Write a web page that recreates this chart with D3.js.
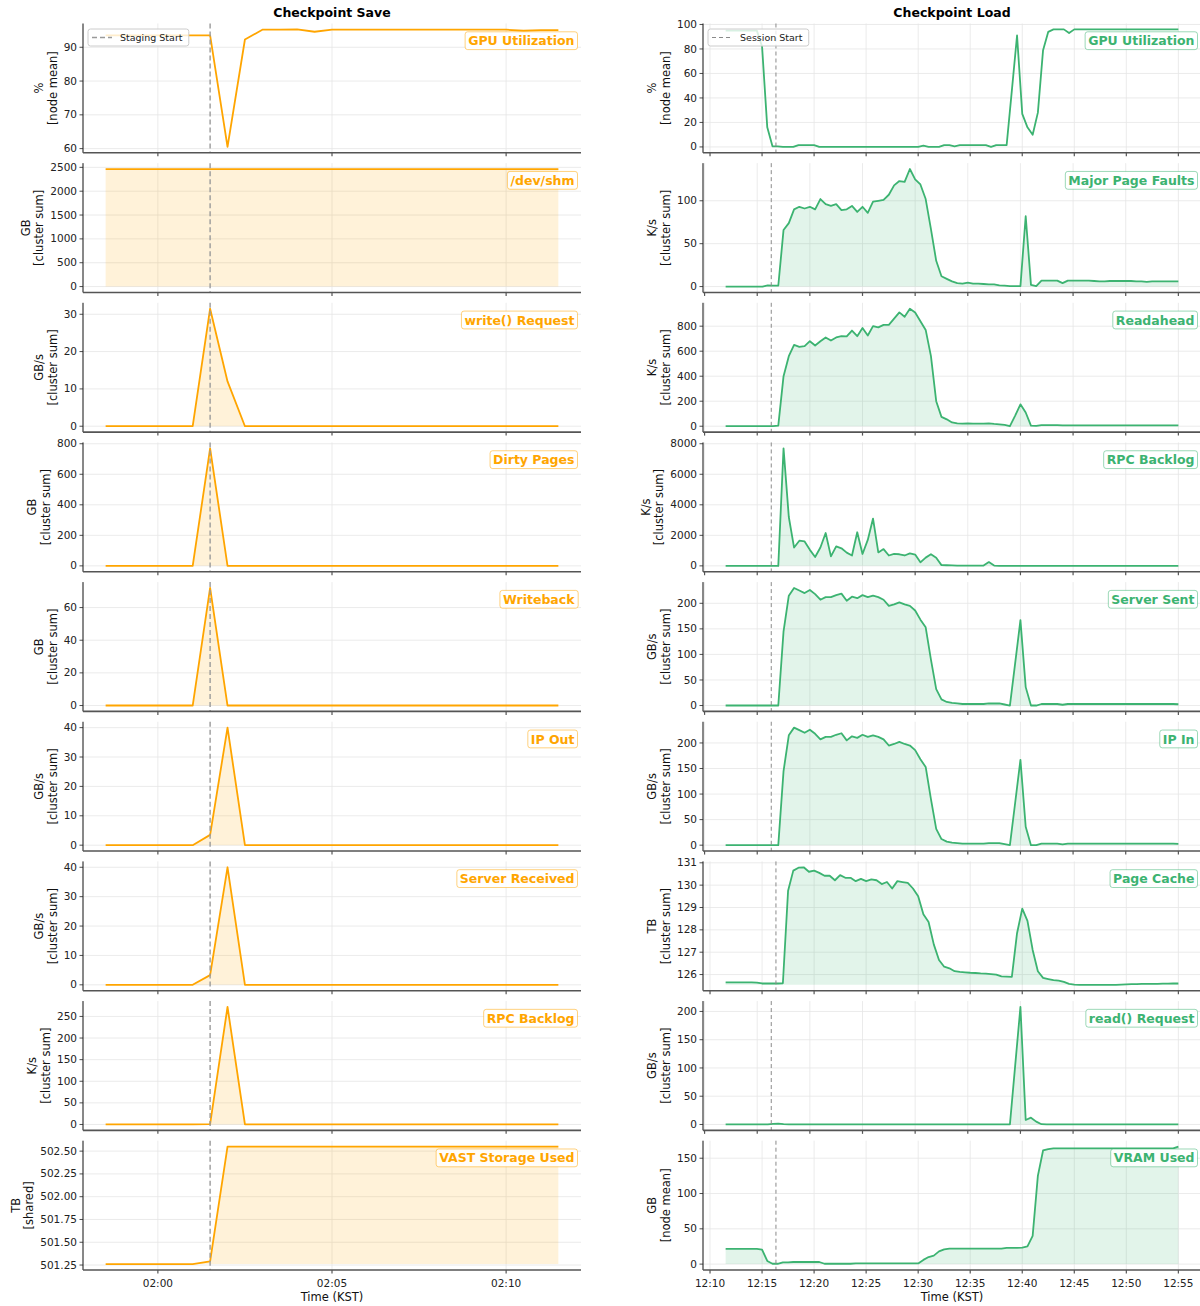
<!DOCTYPE html>
<html><head><meta charset="utf-8">
<script src="https://cdn.jsdelivr.net/npm/d3@7"></script>
<style>
body{margin:0;background:#fff}
svg{display:block}
text{font-family:"DejaVu Sans",sans-serif}
</style>
</head><body>
<svg id="chart" width="1200" height="1306"></svg>
<script>
// ---------------- DATA ----------------
const STEP_SEC = 30;
const saveStart = "01:58:30";
const saveMarker = "02:01:30";
const loadStartA = "12:11:30";
const loadStartB = "12:12:00";
const loadMarker = "12:16:20";
const saveTickLabels = ["02:00","02:05","02:10"];
const loadTickLabels = ["12:10","12:15","12:20","12:25","12:30","12:35","12:40","12:45","12:50","12:55"];

// Checkpoint Save (30 s samples from 01:58:30)
const saveGpu = [93.5,93.5,93.5,93.5,93.5,93.5,93.5,60.5,92.3,95.2,95.2,95.3,94.6,95.2,95.2,95.2,95.2,95.2,95.2,95.2,95.2,95.2,95.2,95.2,94.9,95.1,95.1];
const saveShm = [2465,2465,2465,2465,2465,2465,2465,2465,2465,2465,2465,2465,2465,2465,2465,2465,2465,2465,2465,2465,2465,2465,2465,2465,2465,2465,2465];
const saveWrite = [0,0,0,0,0,0,31.5,12,0,0,0,0,0,0,0,0,0,0,0,0,0,0,0,0,0,0,0];
const saveDirty = [0,0,0,0,0,0,770,0,0,0,0,0,0,0,0,0,0,0,0,0,0,0,0,0,0,0,0];
const saveWriteback = [0,0,0,0,0,0,72,0,0,0,0,0,0,0,0,0,0,0,0,0,0,0,0,0,0,0,0];
const saveIpOut = [0,0,0,0,0,0,3.5,40,0,0,0,0,0,0,0,0,0,0,0,0,0,0,0,0,0,0,0];
const saveServerRecv = [0,0,0,0,0,0,3.3,40,0,0,0,0,0,0,0,0,0,0,0,0,0,0,0,0,0,0,0];
const saveRpc = [0,0,0,0,0,0,1,272,0,0,0,0,0,0,0,0,0,0,0,0,0,0,0,0,0,0,0];
const saveVast = [501.26,501.26,501.26,501.26,501.26,501.26,501.29,502.55,502.55,502.55,502.55,502.55,502.55,502.55,502.55,502.55,502.55,502.55,502.55,502.55,502.55,502.55,502.55,502.55,502.55,502.55,502.55];

// Checkpoint Load, series A (30 s samples from 12:11:30)
const loadGpu = [95,95,95,95,95,95,95,82,16,0.5,0.5,0,0,0,1.5,1.5,1.5,1.5,0,
  0,0,0,0,0,0,0,0,0,0,0,0,0,0,0,0,0,0,0,
  1,0,0,0,1.5,1.5,0.5,1.5,1.5,1.5,1.5,1.5,1.5,0,1.5,1.5,1.5,
  46,91,27,16,10,28,79,94,96,96,96,93,
  96,96,96,96,96,96,96,96,96,96,96,96,96,96,96,96,96,96,96,96,96];
const loadPageCache = [125.65,125.65,125.65,125.65,125.65,125.65,125.64,125.6,125.6,125.6,125.6,125.61,
  129.75,130.65,130.78,130.8,130.6,130.65,130.55,130.42,130.42,130.22,130.45,130.33,130.33,130.18,130.28,130.18,130.26,130.22,130.05,130.14,129.85,130.18,130.14,130.1,129.85,129.5,
  128.7,128.35,127.35,126.65,126.35,126.28,126.15,126.12,126.1,126.08,126.07,126.05,126.04,126.02,126.0,125.92,125.91,125.9,
  127.85,128.95,128.4,127.1,126.15,125.85,125.8,125.75,125.73,125.67,125.58,125.55,
  125.54,125.54,125.54,125.54,125.54,125.54,125.54,125.54,125.55,125.56,125.57,125.57,125.58,125.58,125.58,125.58,125.59,125.59,125.6,125.6];
const loadVram = [21.5,21.5,21.5,21.5,21.5,21.5,21.5,20.5,4.5,0.5,0.5,2.5,2.5,3,3,3,3,3,3,
  0.5,0.5,0.5,0.5,0.5,0.5,1,1,1,1,1,1,1,1,1,1,1,1,1,
  6,10,12,18,21,22,22,22,22,22,22,22,22,22,22,22,
  23,23,23,23.5,25,40,125,161,163,
  164,164,164,164,164,164,164,164,164,164,164,164,164,164,164,164,164,164,164,164,164,164,164,164,166.5];

// Checkpoint Load, series B (30 s samples from 12:12:00)
const loadMajorPF = [0,0,0,0,0,0,0,0,1.5,1,1,66,74,90,93,91,93,90,102,96,94,96,89,90,94,87,93,86,99,100,101,107,118,123,122,137,125,119,102,67,30,12,9,6,4,3.5,4.5,3.5,3.5,3,2.5,2.5,1.5,1,0.5,0.5,0.5,82,2,0.5,7,7,7,7,4,7,7,7,7,7,6.5,6,6,6.5,6.5,6.5,6.5,6.5,6,6,5.5,6,6,6,6,6,6];
const loadReadahead = [0,0,0,0,0,0,0,0,0,0,5,400,560,650,635,640,680,645,680,710,685,710,720,718,765,720,785,725,800,790,810,810,860,910,875,940,910,840,770,560,200,75,55,30,22,20,22,20,20,20,22,18,15,10,0,85,175,110,5,2,8,8,8,8,6,7,7,7,7,7,7,7,7,7,7,7,7,7,7,7,7,7,7,7,7,7,7];
const loadRpc = [0,0,0,0,0,0,0,0,0,0,0,7700,3200,1200,1650,1600,1050,580,1200,2150,620,1280,1150,870,680,2200,780,1700,3100,880,1100,680,780,760,680,820,740,230,540,760,530,50,40,30,20,20,20,20,20,20,250,20,0,0,0,0,0,0,0,0,0,0,0,0,0,0,0,0,0,0,0,0,0,0,0,0,0,0,0,0,0,0,0,0,0,0,0];
const loadServerSent = [0,0,0,0,0,0,0,0,0,0,0,145,215,230,225,220,226,218,207,212,212,216,219,205,213,210,216,212,215,212,207,195,198,202,198,195,186,168,153,90,32,12,7,5,4,3,3,3,3,3,4,4,4,2,0,83,167,36,0,0,3,3,3,3,1.5,3,3,3,3,3,3,3,3,3,3,3,3,3,3,3,3,3,3,3,3,3,2.5];
const loadIpIn = [0,0,0,0,0,0,0,0,0,0,0,145,215,230,225,220,226,218,207,212,212,216,219,205,213,210,216,212,215,212,207,195,198,202,198,195,186,168,153,90,32,12,7,5,4,3,3,3,3,3,4,4,4,2,0,83,167,36,0,0,3,3,3,3,1.5,3,3,3,3,3,3,3,3,3,3,3,3,3,3,3,3,3,3,3,3,3,2.5];
const loadRead = [0,0,0,0,0,0,0,0,0,1,1.5,0.5,0,0,0,0,0,0,0,0,0,0,0,0,0,0,0,0,0,0,0,0,0,0,0,0,0,0,0,0,0,0,0,0,0,0,0,0,0,0,0,0,0,0,0,104,208,8,12,5,0.5,0,0,0,0,0,0,0,0,0,0,0,0,0,0,0,0,0,0,0,0,0,0,0,0,0,0];

// y tick values
const saveGpuTicks = [60,70,80,90];
const saveShmTicks = [0,500,1000,1500,2000,2500];
const saveWriteTicks = [0,10,20,30];
const saveDirtyTicks = [0,200,400,600,800];
const saveWritebackTicks = [0,20,40,60];
const saveIpOutTicks = [0,10,20,30,40];
const saveServerRecvTicks = [0,10,20,30,40];
const saveRpcTicks = [0,50,100,150,200,250];
const saveVastTicks = [501.25,501.5,501.75,502.0,502.25,502.5];
const loadGpuTicks = [0,20,40,60,80,100];
const loadMajorPFTicks = [0,50,100];
const loadReadaheadTicks = [0,200,400,600,800];
const loadRpcTicks = [0,2000,4000,6000,8000];
const loadServerSentTicks = [0,50,100,150,200];
const loadIpInTicks = [0,50,100,150,200];
const loadPageCacheTicks = [126,127,128,129,130,131];
const loadReadTicks = [0,50,100,150,200];
const loadVramTicks = [0,50,100,150];

// ---------------- LAYOUT ----------------
const ORANGE = "#FFA500";
const GREEN = "#3CB371";
const AX_W = 498, AX_H = 129.3, TOP0 = 23.5, PITCH = 139.65;
const TICK_FS = 10.5, YLAB_FS = 11.5;
const COLS = [
  {x0: 83, color: ORANGE, title: "Checkpoint Save", legend: "Staging Start", marker: saveMarker,
   tickLabels: saveTickLabels, dashW: 1.4, dash: "5,3", dashColor: "#9a9a9a"},
  {x0: 703, color: GREEN, title: "Checkpoint Load", legend: "Session Start", marker: loadMarker,
   tickLabels: loadTickLabels, dashW: 1.0, dash: "4,3", dashColor: "#8a8a8a"}
];
const f0 = d => String(d);
const f2 = d3.format(".2f");
const panels = [
  [
    {name:"GPU Utilization", unit:"%", agg:"[node mean]", start:saveStart, values:saveGpu, ticks:saveGpuTicks, fill:null},
    {name:"/dev/shm", unit:"GB", agg:"[cluster sum]", start:saveStart, values:saveShm, ticks:saveShmTicks, fill:"zero"},
    {name:"write() Request", unit:"GB/s", agg:"[cluster sum]", start:saveStart, values:saveWrite, ticks:saveWriteTicks, fill:"zero"},
    {name:"Dirty Pages", unit:"GB", agg:"[cluster sum]", start:saveStart, values:saveDirty, ticks:saveDirtyTicks, fill:"zero"},
    {name:"Writeback", unit:"GB", agg:"[cluster sum]", start:saveStart, values:saveWriteback, ticks:saveWritebackTicks, fill:"zero"},
    {name:"IP Out", unit:"GB/s", agg:"[cluster sum]", start:saveStart, values:saveIpOut, ticks:saveIpOutTicks, fill:"zero"},
    {name:"Server Received", unit:"GB/s", agg:"[cluster sum]", start:saveStart, values:saveServerRecv, ticks:saveServerRecvTicks, fill:"zero"},
    {name:"RPC Backlog", unit:"K/s", agg:"[cluster sum]", start:saveStart, values:saveRpc, ticks:saveRpcTicks, fill:"zero"},
    {name:"VAST Storage Used", unit:"TB", agg:"[shared]", start:saveStart, values:saveVast, ticks:saveVastTicks, fill:"min", fmt:f2}
  ],
  [
    {name:"GPU Utilization", unit:"%", agg:"[node mean]", start:loadStartA, values:loadGpu, ticks:loadGpuTicks, fill:null},
    {name:"Major Page Faults", unit:"K/s", agg:"[cluster sum]", start:loadStartB, values:loadMajorPF, ticks:loadMajorPFTicks, fill:"zero"},
    {name:"Readahead", unit:"K/s", agg:"[cluster sum]", start:loadStartB, values:loadReadahead, ticks:loadReadaheadTicks, fill:"zero"},
    {name:"RPC Backlog", unit:"K/s", agg:"[cluster sum]", start:loadStartB, values:loadRpc, ticks:loadRpcTicks, fill:"zero"},
    {name:"Server Sent", unit:"GB/s", agg:"[cluster sum]", start:loadStartB, values:loadServerSent, ticks:loadServerSentTicks, fill:"zero"},
    {name:"IP In", unit:"GB/s", agg:"[cluster sum]", start:loadStartB, values:loadIpIn, ticks:loadIpInTicks, fill:"zero"},
    {name:"Page Cache", unit:"TB", agg:"[cluster sum]", start:loadStartA, values:loadPageCache, ticks:loadPageCacheTicks, fill:"min"},
    {name:"read() Request", unit:"GB/s", agg:"[cluster sum]", start:loadStartB, values:loadRead, ticks:loadReadTicks, fill:"zero"},
    {name:"VRAM Used", unit:"GB", agg:"[node mean]", start:loadStartA, values:loadVram, ticks:loadVramTicks, fill:"zero"}
  ]
];

// ---------------- DRAW ----------------
const parseT = d3.timeParse("%H:%M:%S");
const parseHM = d3.timeParse("%H:%M");
const svg = d3.select("#chart");

COLS.forEach((col, ci) => {
  svg.append("text").attr("x", col.x0 + AX_W/2).attr("y", 17)
    .attr("text-anchor","middle").attr("font-size", 12.5).attr("font-weight","bold")
    .attr("fill","#000").text(col.title);
  const xTickDates = col.tickLabels.map(parseHM);
  const markerT = parseT(col.marker);

  panels[ci].forEach((p, ri) => {
    const t0 = parseT(p.start);
    const pts = p.values.map((v, i) => ({t: new Date(+t0 + i*STEP_SEC*1000), v}));
    const tMin = +pts[0].t, tMax = +pts[pts.length-1].t;
    const tPad = (tMax - tMin) * 0.05;
    const x = d3.scaleTime().domain([new Date(tMin - tPad), new Date(tMax + tPad)]).range([0, AX_W]);
    let vMin = d3.min(p.values), vMax = d3.max(p.values);
    let base = null;
    if (p.fill === "zero") { base = 0; vMin = Math.min(vMin, 0); vMax = Math.max(vMax, 0); }
    if (p.fill === "min") { base = d3.min(p.values); }
    const vPad = (vMax - vMin) * 0.05;
    const y = d3.scaleLinear().domain([vMin - vPad, vMax + vPad]).range([AX_H, 0]);

    const top = TOP0 + ri*PITCH;
    const g = svg.append("g").attr("transform", `translate(${col.x0},${top})`);

    // grid
    g.append("g").selectAll("line").data(xTickDates).join("line")
      .attr("x1", d => x(d)).attr("x2", d => x(d)).attr("y1", 0).attr("y2", AX_H)
      .attr("stroke", "#e6e6e6").attr("stroke-width", 0.8);
    g.append("g").selectAll("line").data(p.ticks).join("line")
      .attr("x1", 0).attr("x2", AX_W).attr("y1", d => y(d)).attr("y2", d => y(d))
      .attr("stroke", "#e6e6e6").attr("stroke-width", 0.8);

    if (base !== null) {
      const area = d3.area().x(d => x(d.t)).y0(y(base)).y1(d => y(d.v));
      g.append("path").datum(pts).attr("d", area).attr("fill", col.color).attr("fill-opacity", 0.15);
    }
    const line = d3.line().x(d => x(d.t)).y(d => y(d.v));
    g.append("path").datum(pts).attr("d", line).attr("fill","none")
      .attr("stroke", col.color).attr("stroke-width", 1.8).attr("stroke-linejoin","round");

    g.append("line").attr("x1", x(markerT)).attr("x2", x(markerT)).attr("y1", 0).attr("y2", AX_H)
      .attr("stroke", col.dashColor).attr("stroke-width", col.dashW).attr("stroke-dasharray", col.dash);

    // spines
    g.append("line").attr("x1", 0).attr("x2", 0).attr("y1", 0).attr("y2", AX_H)
      .attr("stroke", "#111").attr("stroke-width", 1);
    g.append("line").attr("x1", 0).attr("x2", AX_W).attr("y1", AX_H).attr("y2", AX_H)
      .attr("stroke", "#555").attr("stroke-width", 1.6);

    // y ticks
    const fmt = p.fmt || f0;
    const yt = g.append("g");
    yt.selectAll("line").data(p.ticks).join("line")
      .attr("x1", -3.5).attr("x2", 0).attr("y1", d => y(d)).attr("y2", d => y(d))
      .attr("stroke", "#222").attr("stroke-width", 0.8);
    const ylabels = yt.selectAll("text").data(p.ticks).join("text")
      .attr("x", -6).attr("y", d => y(d)).attr("dy", "0.34em")
      .attr("text-anchor","end").attr("font-size", TICK_FS).attr("fill","#222").text(fmt);
    let minX = 0;
    ylabels.each(function(){ const b = this.getBBox(); minX = Math.min(minX, b.x); });

    // x ticks
    g.append("g").selectAll("line").data(xTickDates).join("line")
      .attr("x1", d => x(d)).attr("x2", d => x(d)).attr("y1", AX_H).attr("y2", AX_H + 3.5)
      .attr("stroke", "#555").attr("stroke-width", 1.2);
    if (ri === panels[ci].length - 1) {
      g.append("g").selectAll("text").data(xTickDates).join("text")
        .attr("x", d => x(d)).attr("y", AX_H + 17)
        .attr("text-anchor","middle").attr("font-size", TICK_FS).attr("fill","#222")
        .text(d => d3.timeFormat("%H:%M")(d));
      g.append("text").attr("x", AX_W/2).attr("y", AX_H + 31.5)
        .attr("text-anchor","middle").attr("font-size", 11.5).attr("fill","#111").text("Time (KST)");
    }

    // y label (two lines)
    const b2 = minX - 7, b1 = b2 - 13.5, cy = AX_H/2;
    g.append("text").attr("transform", `translate(${b1},${cy}) rotate(-90)`)
      .attr("text-anchor","middle").attr("font-size", YLAB_FS).attr("fill","#111").text(p.unit);
    g.append("text").attr("transform", `translate(${b2},${cy}) rotate(-90)`)
      .attr("text-anchor","middle").attr("font-size", YLAB_FS).attr("fill","#111").text(p.agg);

    // label box (top-right)
    const lb = g.append("g");
    const lt = lb.append("text").attr("x", AX_W - 6.5).attr("y", 21.8)
      .attr("text-anchor","end").attr("font-size", 12.5).attr("font-weight","bold")
      .attr("fill", col.color).text(p.name);
    const bb = lt.node().getBBox();
    lb.insert("rect", "text").attr("x", bb.x - 3).attr("y", 8.3).attr("width", bb.width + 6).attr("height", 17.8)
      .attr("rx", 2.5).attr("fill", "#fff").attr("fill-opacity", 0.85)
      .attr("stroke", col.color).attr("stroke-opacity", 0.5).attr("stroke-width", 1);

    if (ri === 0) {
      const lg = g.append("g").attr("transform", "translate(5,5.5)");
      const rect = lg.append("rect").attr("x",0).attr("y",0).attr("height", 17).attr("rx", 2.5)
        .attr("fill","#fff").attr("fill-opacity", 0.8).attr("stroke","#cccccc").attr("stroke-width",1);
      lg.append("line").attr("x1", 4).attr("x2", 24).attr("y1", 8.5).attr("y2", 8.5)
        .attr("stroke", col.dashColor).attr("stroke-width", col.dashW).attr("stroke-dasharray", col.dash);
      const tx = lg.append("text").attr("x", 32).attr("y", 8.5).attr("dy","0.35em")
        .attr("font-size", 9.5).attr("fill","#222").text(col.legend);
      const w = tx.node().getBBox().width;
      rect.attr("width", 32 + w + 6);
    }
  });
});
</script>
</body></html>
